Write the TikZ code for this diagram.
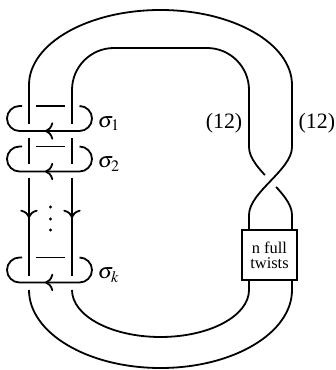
\documentclass[tikz,border=0pt,11pt]{standalone}
\usepackage{mathptmx}
\usepackage{fontspec}
\setmainfont{Liberation Serif}
\usepackage{tikz}
\usetikzlibrary{arrows.meta}
\tikzstyle{twistbox} = [rectangle, draw=black, fill=white, minimum width=27.5pt, minimum height=25pt, align=center, inner sep=1pt, font=\fontsize{8.2}{7.5}\selectfont]
\tikzstyle{over} = [preaction={draw=white, line width=8pt}]
\tikzstyle{lab} = [inner sep=0pt]
\tikzstyle{orient} = [-{To[scale=1.15]}]

\begin{document}
\begin{tikzpicture}[x=0.5pt, y=0.5pt, line width=0.9pt]
		\useasboundingbox (0,0) rectangle (336,370);
		\draw (29,246) -- (29,285) arc (180:0:131.5 and 75) -- (292,223);
		\draw[rounded corners=21pt] (72,246) -- (72,322) -- (249,322) -- (249,223);
		\draw (249,223) .. controls (249,200) and (292,178) .. (292,155) -- (292,80) arc (0:-180:131.5 and 78);
		\draw[over] (292,223) .. controls (292,200) and (249,178) .. (249,155);
		\draw (249,155) -- (249,80) arc (0:-180:88.5 and 47);

		\draw (29,232) -- (29,206);
		\draw (72,232) -- (72,206);
		\draw (29,192) -- (29,94);
		\draw (72,192) -- (72,94);
		\draw[orient] (29,192) -- (29,152);
		\draw[orient] (72,192) -- (72,152);
		\fill (50.5,163) circle (1.6) (50.5,151) circle (1.6) (50.5,140) circle (1.6);

		\draw (22,264) -- (19.5,264) arc (90:270:12.5) -- (79.5,239) arc (-90:90:12.5);
		\draw (36,264) -- (65,264);
		\draw[orient] (60,239) -- (45,239);
		\node[lab, anchor=base west] (s1) at (97,242.5) {$\sigma_1$};

		\draw (22,223.5) -- (19.5,223.5) arc (90:270:12.5) -- (79.5,198.5) arc (-90:90:12.5);
		\draw (36,223.5) -- (65,223.5);
		\draw[orient] (60,198.5) -- (45,198.5);
		\node[lab, anchor=base west] (s2) at (97,202) {$\sigma_2$};

		\draw (22,112.5) -- (19.5,112.5) arc (90:270:12.5) -- (79.5,87.5) arc (-90:90:12.5);
		\draw (36,112.5) -- (65,112.5);
		\draw[orient] (60,87.5) -- (45,87.5);
		\node[lab, anchor=base west] (sk) at (97,91) {$\sigma_k$};

		\node[lab, anchor=base] (w1) at (224,241) {(12)};
		\node[lab, anchor=base east] (w2) at (336,241) {(12)};
		\node[twistbox] (twist) at (269.5,115) {n full\\twists};
	\end{tikzpicture}
\end{document}
